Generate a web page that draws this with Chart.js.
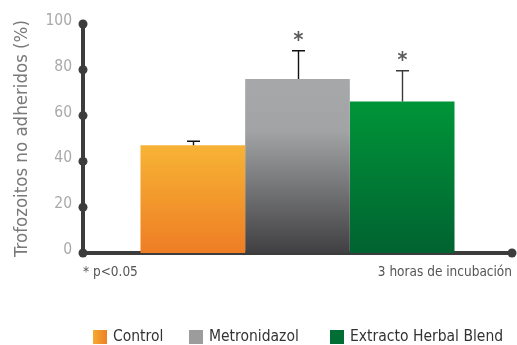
<!DOCTYPE html>
<html>
<head>
<meta charset="utf-8">
<script src="https://cdn.jsdelivr.net/npm/chart.js@4"></script>
<style>
  html, body { margin: 0; padding: 0; background: #ffffff; }
  #wrap { width: 517px; height: 345px; }
</style>
</head>
<body>
<div id="wrap"><canvas id="c" width="517" height="345"></canvas></div>
<script>
// Non-adhered trophozoites after 3 h incubation (%)
const categories = ['3 horas de incubación'];
const seriesNames = ['Control', 'Metronidazol', 'Extracto Herbal Blend'];
const controlValues = [47.0];
const metronidazolValues = [76.0];
const herbalValues = [66.2];
const errorValues = [1.8, 12.3, 13.4];
const significant = [false, true, true];
const yTicks = [0, 20, 40, 60, 80, 100];
const footnote = '* p<0.05';

const FONT = "'DejaVu Sans Condensed', 'Liberation Sans', sans-serif";
const AXIS = '#3c3c3c';

// vertical gradient stops for each series (top -> bottom)
const barStops = [
  [[0, '#f7b335'], [1, '#ee7d24']],
  [[0, '#a7a8aa'], [0.3, '#a2a3a5'], [1, '#404042']],
  [[0, '#009538'], [1, '#006331']]
];
const fallback = ['#f39a2d', '#7a7a7c', '#007c34'];

function barFill(i) {
  return function (ctx) {
    const chart = ctx.chart;
    const area = chart.chartArea;
    if (!area || !chart.scales.y) return fallback[i];
    const ds = chart.data.datasets[i];
    const top = chart.scales.y.getPixelForValue(ds.data[0]);
    const bottom = chart.scales.y.getPixelForValue(0);
    const g = chart.ctx.createLinearGradient(0, top, 0, bottom);
    barStops[i].forEach(s => g.addColorStop(s[0], s[1]));
    return g;
  };
}

const extras = {
  id: 'extras',
  afterDatasetsDraw(chart) {
    const ctx = chart.ctx;
    const y = chart.scales.y;
    ctx.save();
    chart.data.datasets.forEach((ds, i) => {
      const bar = chart.getDatasetMeta(i).data[0];
      const x = Math.round(bar.x) + 0.5;
      const yTop = y.getPixelForValue(ds.data[0] + errorValues[i]);
      ctx.strokeStyle = i === 2 ? '#3a3a3a' : '#111111';
      ctx.lineWidth = 1.4;
      ctx.beginPath();
      ctx.moveTo(x, bar.y);
      ctx.lineTo(x, yTop);
      ctx.moveTo(x - 6.5, yTop);
      ctx.lineTo(x + 6.5, yTop);
      ctx.stroke();
      if (significant[i]) {
        ctx.fillStyle = '#5a5a5a';
        ctx.font = 'bold 21px ' + FONT;
        ctx.textAlign = 'center';
        ctx.textBaseline = 'alphabetic';
        ctx.fillText('*', x, yTop - 4);
      }
    });
    ctx.restore();
  },
  afterDraw(chart) {
    const ctx = chart.ctx;
    const y = chart.scales.y;
    const a = chart.chartArea;
    ctx.save();
    // round markers on the value axis and at the end of the category axis
    ctx.fillStyle = AXIS;
    yTicks.forEach(v => {
      ctx.beginPath();
      ctx.arc(a.left, y.getPixelForValue(v), 4.5, 0, Math.PI * 2);
      ctx.fill();
    });
    ctx.beginPath();
    ctx.arc(a.right, y.getPixelForValue(0), 4.5, 0, Math.PI * 2);
    ctx.fill();

    // footnote
    ctx.fillStyle = '#555555';
    ctx.font = '13.5px ' + FONT;
    ctx.textAlign = 'left';
    ctx.textBaseline = 'middle';
    ctx.fillText(footnote, a.left, 272);

    // legend
    const legendY = 337;
    const xs = [93, 189, 330];
    ctx.font = '15.5px ' + FONT;
    seriesNames.forEach((name, i) => {
      let fill;
      if (i === 0) {
        fill = ctx.createLinearGradient(xs[i], 0, xs[i] + 14, 0);
        fill.addColorStop(0, '#f6aa31');
        fill.addColorStop(1, '#ee7e25');
      } else {
        fill = i === 1 ? '#9c9c9c' : '#006e35';
      }
      ctx.fillStyle = fill;
      ctx.fillRect(xs[i], legendY - 7, 14, 14);
      ctx.fillStyle = '#333333';
      ctx.fillText(name, xs[i] + 20, legendY);
    });
    ctx.restore();
  }
};

new Chart(document.getElementById('c'), {
  type: 'bar',
  data: {
    labels: categories,
    datasets: [
      { label: seriesNames[0], data: controlValues, backgroundColor: barFill(0) },
      { label: seriesNames[1], data: metronidazolValues, backgroundColor: barFill(1) },
      { label: seriesNames[2], data: herbalValues, backgroundColor: barFill(2) }
    ]
  },
  options: {
    responsive: false,
    animation: false,
    events: [],
    layout: { padding: { top: 24, right: 5, left: 0, bottom: 0 } },
    datasets: { bar: { barPercentage: 1, categoryPercentage: 0.732, borderWidth: 0 } },
    plugins: { legend: { display: false }, tooltip: { enabled: false } },
    scales: {
      x: {
        grid: { display: false, drawTicks: false },
        border: { display: true, color: AXIS, width: 4 },
        ticks: { display: false },
        title: {
          display: true,
          text: categories[0],
          align: 'end',
          color: '#555555',
          font: { family: FONT, size: 13.5 },
          padding: { top: 0, bottom: 64.9 }
        },
        afterFit(scale) { scale.height = 92; }
      },
      y: {
        min: 0,
        max: 100,
        grid: { display: false, drawTicks: false },
        border: { display: true, color: AXIS, width: 4 },
        ticks: {
          stepSize: 20,
          padding: 11,
          labelOffset: -3,
          color: '#a9a9a9',
          font: { family: FONT, size: 15.5 }
        },
        title: {
          display: true,
          text: 'Trofozoitos no adheridos (%)',
          color: '#7a7a7a',
          font: { family: FONT, size: 18.5 },
          padding: { top: 10.6, bottom: 0 }
        },
        afterFit(scale) { scale.width = 83; }
      }
    }
  },
  plugins: [extras]
});
</script>
</body>
</html>
